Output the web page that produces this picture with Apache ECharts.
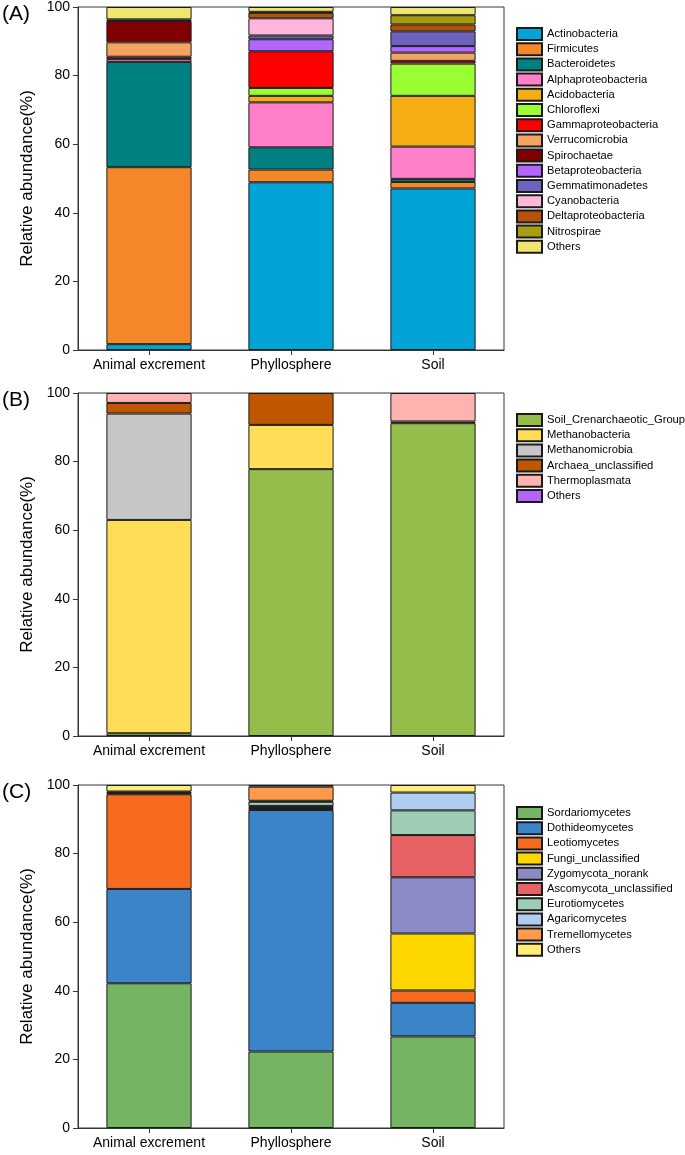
<!DOCTYPE html>
<html>
<head>
<meta charset="utf-8">
<script src="https://cdn.jsdelivr.net/npm/echarts@6/dist/echarts.min.js"></script>
<style>
html,body{margin:0;padding:0;background:#fff;}
#chart{width:685px;height:1155px;}
</style>
</head>
<body>
<div id="chart"></div>
<script>
// ---------- data ----------
const categories = ['Animal excrement', 'Phyllosphere', 'Soil'];
const yTicks = [0, 20, 40, 60, 80, 100];

// Panel A: bacteria (stack order bottom -> top)
const bacteriaNames = ['Actinobacteria','Firmicutes','Bacteroidetes','Alphaproteobacteria','Acidobacteria','Chloroflexi','Gammaproteobacteria','Verrucomicrobia','Spirochaetae','Betaproteobacteria','Gemmatimonadetes','Cyanobacteria','Deltaproteobacteria','Nitrospirae','Others'];
const bacteriaAnimal = [1.7, 51.6, 30.7, 0.8, 0, 0, 0.7, 4.2, 6.2, 0, 0, 0, 0.5, 0, 3.6];
const bacteriaPhyllo = [48.9, 3.7, 6.5, 13.1, 1.9, 2.3, 10.7, 0, 0, 3.5, 1.1, 5.0, 1.6, 0.3, 1.4];
const bacteriaSoil   = [47.1, 1.9, 0.9, 9.4, 14.8, 9.4, 0.8, 2.4, 0, 1.9, 4.3, 0, 2.0, 2.7, 2.4];

// Panel B: archaea
const archaeaNames = ['Soil_Crenarchaeotic_Group','Methanobacteria','Methanomicrobia','Archaea_unclassified','Thermoplasmata','Others'];
const archaeaAnimal = [0.8, 62.2, 31.0, 3.1, 2.9, 0];
const archaeaPhyllo = [77.8, 12.9, 0, 9.3, 0, 0];
const archaeaSoil   = [91.2, 0, 0, 0.5, 8.3, 0];

// Panel C: fungi
const fungiNames = ['Sordariomycetes','Dothideomycetes','Leotiomycetes','Fungi_unclassified','Zygomycota_norank','Ascomycota_unclassified','Eurotiomycetes','Agaricomycetes','Tremellomycetes','Others'];
const fungiAnimal = [42.2, 27.5, 27.6, 0.3, 0, 0.2, 0.3, 0, 0, 1.9];
const fungiPhyllo = [22.3, 70.4, 0.6, 0, 0, 0.6, 1.2, 0.3, 4.1, 0.5];
const fungiSoil   = [26.7, 9.8, 3.6, 16.6, 16.4, 12.3, 7.2, 5.2, 0, 2.2];

// ---------- styles ----------
const bacteriaColors = ['#02A3D6','#F5872B','#008080','#FF7FC8','#F5AD14','#99FF33','#FF0000','#F4A460','#800000','#B266FF','#6B63BE','#FFB6DB','#B5520A','#A69D12','#EFE66E'];
const archaeaColors = ['#95BD4B','#FFDD57','#C6C6C6','#BF5700','#FFB3B0','#B266FF'];
const fungiColors = ['#74B462','#3A84C7','#F76B20','#FFD700','#8C8AC4','#E66163','#9DCDB4','#AFCDEE','#FF9A4D','#FFEE75'];

const FONT = '"Liberation Sans", Arial, sans-serif';
const AXIS_COLOR = '#2f3a34';

const panels = [
  {label:'(A)', names:bacteriaNames, colors:bacteriaColors, vals:[bacteriaAnimal,bacteriaPhyllo,bacteriaSoil], top:7, legendTop:27, suffix:''},
  {label:'(B)', names:archaeaNames, colors:archaeaColors, vals:[archaeaAnimal,archaeaPhyllo,archaeaSoil], top:393, legendTop:413, suffix:' '},
  {label:'(C)', names:fungiNames, colors:fungiColors, vals:[fungiAnimal,fungiPhyllo,fungiSoil], top:785, legendTop:806, suffix:'  '}
];

const grid = [], xAxis = [], yAxis = [], series = [], legend = [], graphic = [];
panels.forEach((p, gi) => {
  grid.push({left:78, width:426, top:p.top, height:343, show:true, borderColor:AXIS_COLOR, borderWidth:1, backgroundColor:'transparent'});
  xAxis.push({
    type:'category', gridIndex:gi, data:categories,
    axisLine:{show:true, lineStyle:{color:AXIS_COLOR, width:1}},
    axisTick:{show:true, alignWithLabel:true, length:5, lineStyle:{color:AXIS_COLOR}},
    axisLabel:{color:'#000', fontSize:14, fontFamily:FONT, margin:8, interval:0}
  });
  yAxis.push({
    type:'value', gridIndex:gi, min:0, max:100, interval:20,
    name:'Relative abundance(%)', nameLocation:'middle', nameGap:39,
    nameTextStyle:{color:'#000', fontSize:17, fontFamily:FONT},
    axisLine:{show:true, lineStyle:{color:AXIS_COLOR, width:1}},
    axisTick:{show:true, length:5, lineStyle:{color:AXIS_COLOR}},
    axisLabel:{color:'#000', fontSize:14, fontFamily:FONT, margin:8},
    splitLine:{show:false}
  });
  const legendData = [];
  p.names.forEach((n, si) => {
    const name = n + (n === 'Others' ? p.suffix : '');
    legendData.push(name);
    series.push({
      type:'bar', name:name, xAxisIndex:gi, yAxisIndex:gi, stack:'s'+gi,
      barWidth:'60%',
      itemStyle:{color:p.colors[si], borderColor:'#1a1a1a', borderWidth:1},
      data:p.vals.map(v => v[si] === 0 ? '-' : v[si]),
      emphasis:{disabled:true}, animation:false
    });
  });
  legend.push({
    data:legendData, orient:'vertical', left:516, top:p.legendTop, padding:0,
    itemWidth:25, itemHeight:12, itemGap:1.2, icon:'rect',
    textStyle:{color:'#000', fontSize:11.2, fontFamily:FONT, lineHeight:12},
    selectedMode:false
  });
  graphic.push({type:'text', left:2, top:p.top - 3, style:{text:p.label, fontSize:21, fontFamily:FONT, fill:'#000'}});
});

const chart = echarts.init(document.getElementById('chart'), null, {renderer:'canvas'});
chart.setOption({
  backgroundColor:'#fff', animation:false,
  grid, xAxis, yAxis, series, legend, graphic
});
</script>
</body>
</html>
